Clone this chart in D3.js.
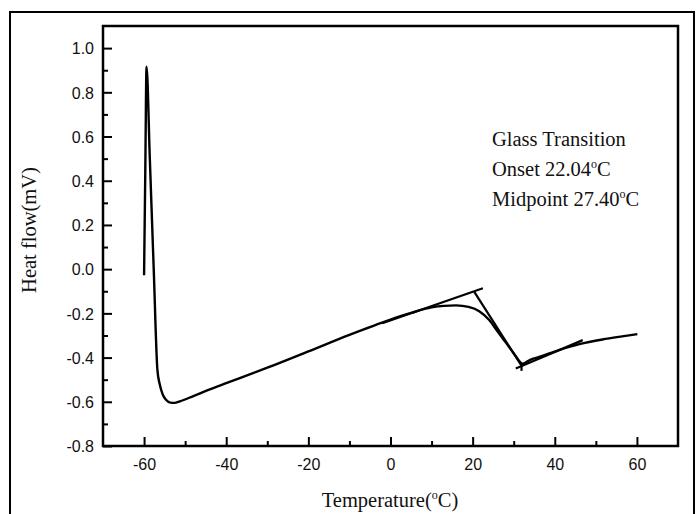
<!DOCTYPE html>
<html>
<head>
<meta charset="utf-8">
<script src="https://cdn.jsdelivr.net/npm/d3@7"></script>
<style>
  html, body { margin: 0; padding: 0; background: #fff; }
  svg { display: block; }
</style>
</head>
<body>
<svg id="chart" width="696" height="514"></svg>
<script>
// ---- data ----
const temperature = [-60.0, -59.7, -59.4, -58.6, -57.65, -56.75, -56.2, -55.5, -54.6, -53.6, -52.6, -51.3, -48, -44, -40, -36.7, -30, -20, -10, 0, 5, 10, 13, 16, 19, 21.6, 24.1, 26, 28, 30, 32.2, 34, 36.2, 41, 46, 51.6, 56, 60.1];
const heatFlow    = [-0.028, 0.45, 0.916, 0.50, 0.0, -0.457, -0.52, -0.565, -0.592, -0.604, -0.605, -0.598, -0.574, -0.544, -0.516, -0.493, -0.446, -0.372, -0.297, -0.228, -0.198, -0.173, -0.166, -0.164, -0.171, -0.19, -0.231, -0.28, -0.33, -0.38, -0.428, -0.41, -0.397, -0.366, -0.339, -0.318, -0.305, -0.294];

// tangent / construction lines of the glass transition analysis
const upperTangentT = [-2, 22.5];
const upperTangentV = [-0.245, -0.086];
const stepLineT = [20.4, 31.9];
const stepLineV = [-0.103, -0.437];
const lowerTangentT = [30.5, 46.8];
const lowerTangentV = [-0.449, -0.321];
const markT = [31.9, 31.9];
const markV = [-0.425, -0.46];

const xTicks = [-60, -40, -20, 0, 20, 40, 60];
const xMinorTicks = [-50, -30, -10, 10, 30, 50];
const yTicks = [-0.8, -0.6, -0.4, -0.2, 0.0, 0.2, 0.4, 0.6, 0.8, 1.0];
const yMinorTicks = [-0.7, -0.5, -0.3, -0.1, 0.1, 0.3, 0.5, 0.7, 0.9];
const annotationLines = [["Glass Transition", null], ["Onset 22.04", "C"], ["Midpoint 27.40", "C"]];

// ---- layout ----
const svg = d3.select("#chart");
const L = 103, T = 26, R = 678, B = 446;
const x = d3.scaleLinear().domain([-70, 70]).range([L, R]);
const y = d3.scaleLinear().domain([-0.8, 1.1]).range([B, T]);

// outer frame
svg.append("rect").attr("x", 10).attr("y", 12).attr("width", 684).attr("height", 530)
  .attr("fill", "none").attr("stroke", "#000").attr("stroke-width", 2);

// plot frame
svg.append("rect").attr("x", L).attr("y", T).attr("width", R - L).attr("height", B - T)
  .attr("fill", "none").attr("stroke", "#000").attr("stroke-width", 2.5);

// bottom axis (ticks inward)
const xAxis = svg.append("g").attr("transform", `translate(0,${B})`)
  .call(d3.axisBottom(x).tickValues(xTicks).tickSizeInner(-9).tickSizeOuter(0).tickPadding(0));
xAxis.select(".domain").remove();
xAxis.selectAll(".tick line").attr("stroke-width", 2);
xAxis.selectAll(".tick text").attr("y", 24).attr("dy", 0)
  .attr("font-family", "Liberation Sans, Arial, sans-serif").attr("font-size", 16).attr("fill", "#111")
  .text(d => String(d));
const xMinor = svg.append("g").attr("transform", `translate(0,${B})`)
  .call(d3.axisBottom(x).tickValues(xMinorTicks).tickSizeInner(-5).tickSizeOuter(0).tickFormat(""));
xMinor.select(".domain").remove();
xMinor.selectAll(".tick line").attr("stroke-width", 2);

// left axis (ticks inward)
const yAxis = svg.append("g").attr("transform", `translate(${L},0)`)
  .call(d3.axisLeft(y).tickValues(yTicks).tickSizeInner(-9).tickSizeOuter(0).tickPadding(0));
yAxis.select(".domain").remove();
yAxis.selectAll(".tick line").attr("stroke-width", 2);
yAxis.selectAll(".tick text").attr("x", -9).attr("dy", "0.36em")
  .attr("font-family", "Liberation Sans, Arial, sans-serif").attr("font-size", 16).attr("fill", "#111")
  .text(d => d3.format(".1f")(d).replace("−", "-"));
const yMinor = svg.append("g").attr("transform", `translate(${L},0)`)
  .call(d3.axisLeft(y).tickValues(yMinorTicks).tickSizeInner(-5).tickSizeOuter(0).tickFormat(""));
yMinor.select(".domain").remove();
yMinor.selectAll(".tick line").attr("stroke-width", 2);

// curve
const data = temperature.map((t, i) => [t, heatFlow[i]]);
const line = d3.line().x(d => x(d[0])).y(d => y(d[1])).curve(d3.curveMonotoneX);
svg.append("path").datum(data).attr("d", line)
  .attr("fill", "none").attr("stroke", "#000").attr("stroke-width", 2.4).attr("stroke-linejoin", "round");

// construction lines
const straight = d3.line().x(d => x(d[0])).y(d => y(d[1]));
[[upperTangentT, upperTangentV], [stepLineT, stepLineV], [lowerTangentT, lowerTangentV], [markT, markV]]
  .forEach(([ts, vs]) => {
    svg.append("path").datum(ts.map((t, i) => [t, vs[i]])).attr("d", straight)
      .attr("fill", "none").attr("stroke", "#000").attr("stroke-width", 2.2);
  });

// annotation
const serif = "Liberation Serif, Times New Roman, serif";
annotationLines.forEach(([txt, unit], i) => {
  const t = svg.append("text").attr("x", 492).attr("y", 146 + i * 30)
    .attr("font-family", serif).attr("font-size", 20.5).attr("fill", "#111");
  t.append("tspan").text(txt);
  if (unit) {
    t.append("tspan").attr("font-size", 12).attr("dy", -8).text("o");
    t.append("tspan").attr("dy", 8).text(unit);
  }
});

// axis titles
const xt = svg.append("text").attr("x", 390).attr("y", 507).attr("text-anchor", "middle")
  .attr("font-family", serif).attr("font-size", 20.5).attr("fill", "#111");
xt.append("tspan").text("Temperature(");
xt.append("tspan").attr("font-size", 12).attr("dy", -8).text("o");
xt.append("tspan").attr("dy", 8).text("C)");

svg.append("text").attr("transform", "translate(36,230) rotate(-90)").attr("text-anchor", "middle")
  .attr("font-family", serif).attr("font-size", 20.5).attr("fill", "#111").text("Heat flow(mV)");
</script>
</body>
</html>
